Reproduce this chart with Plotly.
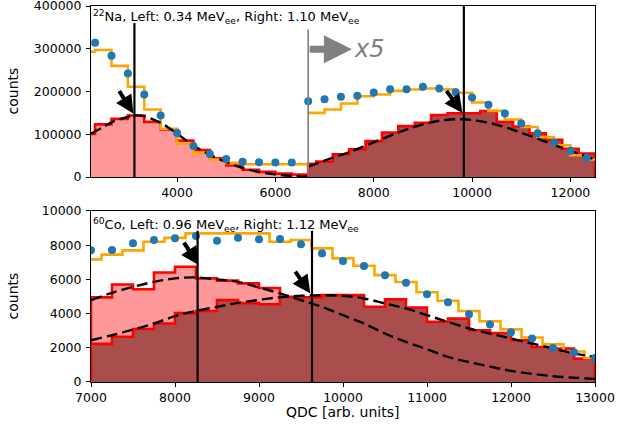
import plotly.graph_objects as go

# ---------------- top panel: 22Na ----------------
na_left_edges = [2000, 2333, 2667, 3000, 3333, 3667, 4000, 4333, 4667, 5000, 5333, 5667, 6000, 6333, 6667]
na_left_red = [101000, 123000, 136000, 144000, 129000, 111000, 85000, 63000, 44000, 27000, 17000, 12000, 8000, 6000]
na_left_orange = [293000, 297000, 260000, 211000, 158000, 113000, 78000, 55000, 41000, 33000, 30000, 30000, 30000, 30000]
na_left_dot_x = [2333, 2667, 3000, 3333, 3667, 4000, 4333, 4667, 5000, 5333, 5667, 6000, 6333]
na_left_dot_y = [314000, 283600, 242200, 193000, 143750, 103100, 72650, 53900, 42200, 35900, 34400, 34000, 34000]
na_left_fit_x = [2250, 2500, 2667, 3000, 3133, 3333, 3667, 4000, 4333, 4667, 5000, 5333, 5667, 6000, 6333, 6667]
na_left_fit_y = [101500, 117000, 128000, 140600, 144000, 142000, 126500, 101500, 73500, 52400, 35100, 21100, 11700, 6300, 2500, 1000]

na_right_red_edges = [6667, 6833, 7167, 7500, 7833, 8167, 8500, 8833, 9167, 9500, 9833, 10167,
                      10500, 10833, 11167, 11500, 11833, 12167, 12500]
na_right_red = [31000, 36000, 53000, 65000, 84000, 104000, 119000, 127000, 145000, 149000, 149000,
                154000, 129000, 118000, 102000, 87000, 66000, 55000]
na_right_orange_edges = [6667, 7000, 7333, 7667, 8000, 8333, 8667, 9000, 9333, 9667, 10000, 10333,
                         10667, 11000, 11333, 11667, 12000, 12333, 12667]
na_right_orange = [150000, 158000, 172000, 189000, 193000, 201500, 204800, 207000, 205000, 197000,
                   174300, 154600, 134500, 117100, 93700, 74200, 50800, 40800]
na_right_dot_x = [6667, 7000, 7333, 7667, 8000, 8333, 8667, 9000, 9333, 9667, 10000, 10333, 10667,
                  11000, 11333, 11667, 12000, 12333]
na_right_dot_y = [177300, 182000, 187500, 189800, 197700, 205500, 205500, 210900, 207000, 198400,
                  186000, 168750, 148400, 125000, 102300, 80500, 61700, 44500]
na_right_fit_x = [6667, 6900, 7175, 7514, 7853, 8191, 8530, 8870, 9207, 9547, 9831, 10122, 10461,
                  10800, 11138, 11477, 11817, 12155, 12500]
na_right_fit_y = [24000, 34000, 45500, 58600, 74200, 89900, 105500, 118700, 128900, 134400, 135000,
                  131200, 123400, 111700, 97700, 83600, 68900, 54800, 40800]
na_markers = [3133, 9833]
na_marker_tops = [360000, 400000]
na_arrows = [(2805, 204800, 3110, 148400), (9459, 204800, 9805, 150000)]
na_scale_boundary = 6667
na_scale_label = "x5"
na_title = "<sup>22</sup>Na, Left: 0.34 MeV<sub>ee</sub>, Right: 1.10 MeV<sub>ee</sub>"

# ---------------- bottom panel: 60Co ----------------
co_pink_edges = [7000, 7250, 7500, 7750, 8000, 8250, 8500, 8750, 9000, 9250, 9500]
co_pink = [4950, 5705, 5420, 6400, 6740, 6060, 5930, 5765, 5500, 4900]
co_dark_edges = [7000, 7250, 7500, 7750, 8000, 8250, 8500, 8750, 9000, 9250, 9500, 9750, 10000,
                 10250, 10500, 10750, 11000, 11250, 11500, 11750, 12000, 12250, 12500, 12750, 13000]
co_dark = [2230, 2650, 3100, 3420, 4030, 4150, 4790, 4610, 4550, 4980, 4950, 5080, 5080, 4400,
           4830, 4360, 3520, 3710, 3030, 2870, 2440, 2050, 1960, 1370]
co_orange_edges = [6875, 7125, 7375, 7625, 7875, 8125, 8375, 8625, 8875, 9125, 9375, 9625, 9875,
                   10125, 10375, 10625, 10875, 11125, 11375, 11625, 11875, 12125, 12375, 12625,
                   12875, 13125]
co_orange = [7170, 7450, 7700, 8200, 8430, 8690, 8650, 8650, 8690, 8200, 8300, 7814, 7229, 6800,
             6250, 5850, 5250, 4750, 4150, 3550, 3080, 2600, 2200, 1780, 1400]
co_dot_x = [7000, 7250, 7500, 7750, 8000, 8250, 8500, 8750, 9000, 9250, 9500, 9750, 10000, 10250,
            10500, 10750, 11000, 11250, 11500, 11750, 12000, 12250, 12500, 12750, 13000]
co_dot_y = [7700, 7714, 8107, 8300, 8400, 8535, 8260, 8436, 8342, 8360, 8049, 7522, 7071, 6778,
            6250, 5800, 5137, 4669, 3966, 3363, 2911, 2542, 1992, 1722, 1406]
co_fit_x = [7000, 7250, 7500, 7750, 8000, 8250, 8500, 8750, 9000, 9250, 9500, 9750, 10000, 10250,
            10500, 10750, 11000, 11250, 11500, 11750, 12000, 12250, 12500, 12750, 13000]
co_fit_left = [4786, 5214, 5565, 5858, 6057, 6116, 5999, 5858, 5530, 5178, 4790, 4394, 3906, 3421,
               2835, 2343, 1915, 1465, 1170, 900, 650, 480, 340, 250, 180]
co_fit_right = [2443, 2736, 3070, 3421, 3849, 4159, 4394, 4628, 4800, 4960, 5040, 5070, 5040, 4886,
                4593, 4300, 3906, 3515, 3128, 2835, 2542, 2250, 1957, 1664, 1465]
co_markers = [8269, 9631]
co_marker_tops = [8850, 8850]
co_arrows = [(8095, 8242, 8281, 6836), (9420, 6543, 9611, 5178)]
co_title = "<sup>60</sup>Co, Left: 0.96 MeV<sub>ee</sub>, Right: 1.12 MeV<sub>ee</sub>"

PINK = "rgb(255,153,153)"
DARK = "rgb(170,77,77)"
RED = "rgb(255,0,0)"
ORANGE = "rgb(255,165,0)"
BLUE = "rgb(31,119,180)"
FONT = "DejaVu Sans"
TICK_SIZE = 12.5
LABEL_SIZE = 14
TITLE_SIZE = 13


def step_polygon(edges, vals):
    xs, ys = [edges[0]], [0]
    for i, v in enumerate(vals):
        xs += [edges[i], edges[i + 1]]
        ys += [v, v]
    xs.append(edges[-1])
    ys.append(0)
    return xs, ys


def step_line(edges, vals):
    xs, ys = [], []
    for i, v in enumerate(vals):
        xs += [edges[i], edges[i + 1]]
        ys += [v, v]
    return xs, ys


fig = go.Figure()


def add_fill(edges, vals, color, xa, ya):
    xs, ys = step_polygon(edges, vals)
    fig.add_trace(go.Scatter(x=xs, y=ys, mode="lines", fill="toself", fillcolor=color,
                             line=dict(color=RED, width=2.6), xaxis=xa, yaxis=ya,
                             hoverinfo="skip"))


def add_orange(edges, vals, xa, ya):
    xs, ys = step_line(edges, vals)
    fig.add_trace(go.Scatter(x=xs, y=ys, mode="lines", line=dict(color=ORANGE, width=2.6),
                             xaxis=xa, yaxis=ya))


def add_fit(xs, ys, xa, ya):
    fig.add_trace(go.Scatter(x=xs, y=ys, mode="lines", line=dict(color="black", width=2.4,
                                                                 dash="11px,5px", shape="spline"),
                             xaxis=xa, yaxis=ya))


def add_dots(xs, ys, xa, ya):
    fig.add_trace(go.Scatter(x=xs, y=ys, mode="markers", marker=dict(color=BLUE, size=8),
                             xaxis=xa, yaxis=ya))


# top panel
add_fill(na_left_edges, na_left_red, PINK, "x", "y")
add_fill(na_right_red_edges, na_right_red, DARK, "x", "y")
add_orange(na_left_edges, na_left_orange, "x", "y")
add_orange(na_right_orange_edges, na_right_orange, "x", "y")
add_fit(na_left_fit_x, na_left_fit_y, "x", "y")
add_fit(na_right_fit_x, na_right_fit_y, "x", "y")
add_dots(na_left_dot_x, na_left_dot_y, "x", "y")
add_dots(na_right_dot_x, na_right_dot_y, "x", "y")

# bottom panel
add_fill(co_pink_edges, co_pink, PINK, "x2", "y2")
add_fill(co_dark_edges, co_dark, DARK, "x2", "y2")
add_orange(co_orange_edges, co_orange, "x2", "y2")
add_fit(co_fit_x, co_fit_left, "x2", "y2")
add_fit(co_fit_x, co_fit_right, "x2", "y2")
add_dots(co_dot_x, co_dot_y, "x2", "y2")

shapes = []
for xv, top in zip(na_markers, na_marker_tops):
    shapes.append(dict(type="line", xref="x", yref="y", x0=xv, x1=xv, y0=0, y1=top,
                       line=dict(color="black", width=2.2)))
for xv, top in zip(co_markers, co_marker_tops):
    shapes.append(dict(type="line", xref="x2", yref="y2", x0=xv, x1=xv, y0=0, y1=top,
                       line=dict(color="black", width=2.2)))
shapes.append(dict(type="line", xref="x", yref="y", x0=na_scale_boundary, x1=na_scale_boundary,
                   y0=0, y1=345000, line=dict(color="gray", width=1.6)))

annotations = []
for (ax, ay, x, y) in na_arrows:
    annotations.append(dict(x=x, y=y, ax=ax, ay=ay, xref="x", yref="y", axref="x", ayref="y",
                            text="", showarrow=True, arrowhead=2, arrowsize=0.9, arrowwidth=4,
                            arrowcolor="black"))
for (ax, ay, x, y) in co_arrows:
    annotations.append(dict(x=x, y=y, ax=ax, ay=ay, xref="x2", yref="y2", axref="x2", ayref="y2",
                            text="", showarrow=True, arrowhead=2, arrowsize=0.9, arrowwidth=4,
                            arrowcolor="black"))
# x5 grey arrow
annotations.append(dict(x=7555, y=299000, ax=na_scale_boundary, ay=299000, xref="x", yref="y",
                        axref="x", ayref="y", text="", showarrow=True, arrowhead=2,
                        arrowsize=0.8, arrowwidth=7, arrowcolor="gray"))
annotations.append(dict(x=7560, y=299000, xref="x", yref="y", text="<i>" + na_scale_label + "</i>",
                        showarrow=False, xanchor="left", yanchor="middle",
                        font=dict(family=FONT, size=24, color="gray")))
# titles
annotations.append(dict(x=0, y=1, xref="paper", yref="paper", text=na_title, showarrow=False,
                        xanchor="left", yanchor="top", xshift=0, yshift=0,
                        font=dict(family=FONT, size=TITLE_SIZE, color="black")))
annotations.append(dict(x=0, y=0.4548, xref="paper", yref="paper", text=co_title, showarrow=False,
                        xanchor="left", yanchor="top", xshift=0, yshift=-3,
                        font=dict(family=FONT, size=TITLE_SIZE, color="black")))
# axis titles
for yc in (0.7726, 0.2274):
    annotations.append(dict(x=0, y=yc, xref="paper", yref="paper", text="counts", showarrow=False,
                            textangle=-90, xanchor="center", yanchor="middle", xshift=-78,
                            font=dict(family=FONT, size=LABEL_SIZE, color="black")))
annotations.append(dict(x=0.5, y=-0.0798, xref="paper", yref="paper", text="QDC [arb. units]",
                        showarrow=False, xanchor="center", yanchor="middle",
                        font=dict(family=FONT, size=LABEL_SIZE, color="black")))

axis_common = dict(showline=True, mirror=True, linecolor="black", linewidth=1, ticks="outside",
                   ticklen=4, tickwidth=1, tickcolor="black", showgrid=False, zeroline=False,
                   automargin=False, tickformat="d", ticklabeloverflow="allow",
                   tickfont=dict(family=FONT, size=TICK_SIZE, color="black"))

fig.update_layout(
    width=618, height=429,
    margin=dict(l=91, r=23, t=6, b=47),
    plot_bgcolor="white", paper_bgcolor="white",
    showlegend=False,
    font=dict(family=FONT, size=TICK_SIZE, color="black"),
    xaxis=dict(domain=[0, 1], anchor="y", range=[2250, 12500],
               tickvals=[4000, 6000, 8000, 10000, 12000], **axis_common),
    yaxis=dict(domain=[0.5452, 1], anchor="x", range=[0, 400000], ticklabelstandoff=2,
               tickvals=[0, 100000, 200000, 300000, 400000], **axis_common),
    xaxis2=dict(domain=[0, 1], anchor="y2", range=[7000, 13000],
                tickvals=[7000, 8000, 9000, 10000, 11000, 12000, 13000], **axis_common),
    yaxis2=dict(domain=[0, 0.4548], anchor="x2", range=[0, 10000], ticklabelstandoff=2,
                tickvals=[0, 2000, 4000, 6000, 8000, 10000], **axis_common),
    shapes=shapes,
    annotations=annotations,
)

fig.write_html("out.html", config={"displayModeBar": False},
               post_script="document.body.style.margin='0px';")
